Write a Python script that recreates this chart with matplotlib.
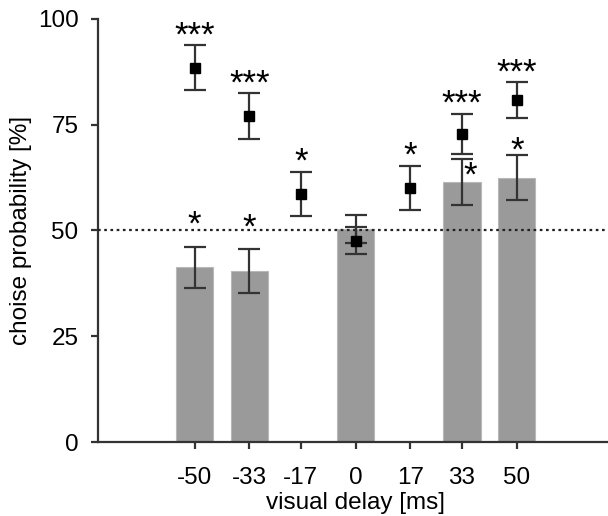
import numpy as np
import matplotlib.pyplot as plt

plt.rcParams['font.family'] = ['Liberation Sans', 'DejaVu Sans']

# visual delay conditions [ms]
delays = [-50, -33, -17, 0, 17, 33, 50]

# square markers: mean choice probability and error
sq_mean = [88.5, 77.0, 58.6, 47.6, 60.1, 72.8, 80.8]
sq_err = [5.3, 5.4, 5.2, 3.2, 5.2, 4.8, 4.2]
sq_sig = ['***', '***', '*', '', '*', '***', '***']

# grey bars
bar_delays = [-50, -33, 0, 33, 50]
bar_mean = [41.3, 40.3, 50.4, 61.4, 62.5]
bar_err = [4.8, 5.2, 3.25, 5.5, 5.25]
bar_sig = ['*', '*', '', '*', '*']

dark = '#333333'

fig = plt.figure(figsize=(6.08, 5.16), dpi=100)
ax = fig.add_axes([0.161, 0.1434, 0.848, 0.8200])

ax.bar(bar_delays, bar_mean, width=11.5, color='#9a9a9a',
       edgecolor='#b8b8b8', linewidth=0.8, zorder=1)
ax.errorbar(bar_delays, bar_mean, yerr=bar_err, fmt='none', ecolor=dark,
            elinewidth=1.6, capsize=8, capthick=1.6, zorder=2)

ax.axhline(50, color='#222222', linestyle=(0, (1.2, 1.6)), linewidth=1.6, zorder=3)

ax.errorbar(delays, sq_mean, yerr=sq_err, fmt='s', color='black', markersize=7.2,
            ecolor=dark, elinewidth=1.6, capsize=8, capthick=1.6, zorder=4)

# significance stars
for x, m, e, s in zip(delays, sq_mean, sq_err, sq_sig):
    if s:
        ax.text(x, m + e + 0.0, s, ha='center', va='baseline', fontsize=25)
for x, m, e, s in zip(bar_delays, bar_mean, bar_err, bar_sig):
    if not s:
        continue
    dx, dy = 0, -1.3
    if x < 0:
        dy = 2.9  # keep clear of the dotted chance line
    if x == 33:
        dx, dy = 2.4, -6.4  # squeezed under the square's error bar
    ax.text(x + dx, m + e + dy, s, ha='center', va='baseline', fontsize=25)

ax.set_xlim(-80, 80)
ax.set_ylim(0, 100)
ax.set_xticks(delays)
ax.set_xticklabels([str(d) for d in delays])
ax.set_yticks([0, 25, 50, 75, 100])
ax.set_xlabel('visual delay [ms]', fontsize=17.5, labelpad=2)
ax.set_ylabel('choise probability [%]', fontsize=17.5, labelpad=4)

for side in ['top', 'right']:
    ax.spines[side].set_visible(False)
for side in ['left', 'bottom']:
    ax.spines[side].set_color(dark)
    ax.spines[side].set_linewidth(1.6)
ax.tick_params(direction='out', length=5, width=1.6, color=dark, labelsize=17.5)
ax.tick_params(axis='x', pad=13)
ax.tick_params(axis='y', pad=9)

fig.savefig('out.png', dpi=100)
